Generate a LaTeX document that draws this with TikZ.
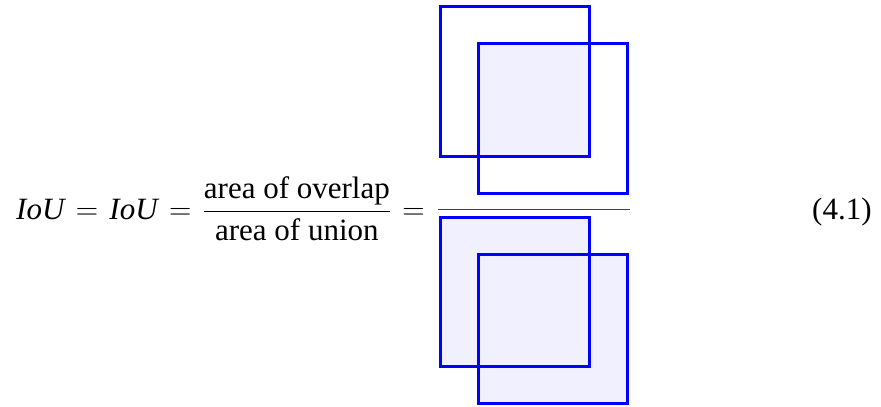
\RequirePackage{fix-cm}
\documentclass[tikz,border=0pt]{standalone}
\usepackage{amsmath}
\usepackage{fontspec}
\setmainfont{Liberation Serif}
\usepackage{tikz}

\begin{document}
\begin{tikzpicture}[x=1pt,y=-1pt,font=\fontsize{31}{37}\selectfont]
  \tikzstyle{square}=[rectangle,minimum size=149pt,inner sep=0pt]
  \tikzstyle{frame}=[draw=blue,line width=3pt]
  \tikzstyle{overlap}=[fill=blue!6]
  \useasboundingbox (0,0) rectangle (881,407);
  \node [inner sep=0pt,anchor=base west] (lhs) at (16,219)
    {\thickmuskip=6.6mu$\textit{IoU}=\textit{IoU}=\dfrac{\text{area of overlap}}{\text{area of union}}=$};
  \node [inner sep=0pt,anchor=base west] (eqno) at (812,219) {(4.1)};
  % numerator: intersection
  \node [square] (a1) at (515,81.5) {};
  \node [square] (b1) at (553,118.5) {};
  \fill [overlap] (b1.north west) rectangle (a1.south east);
  % denominator: union
  \node [square,overlap] (a2) at (515,292) {};
  \node [square,overlap] (b2) at (553,329) {};
  \foreach \s in {a1,b1,a2,b2}
    \draw [frame] (\s.south west) rectangle (\s.north east);
  \coordinate (barl) at (438,209);
  \coordinate (barr) at (630,209);
  \draw [black!75,line width=1pt] (barl) -- (barr);
\end{tikzpicture}
\end{document}
